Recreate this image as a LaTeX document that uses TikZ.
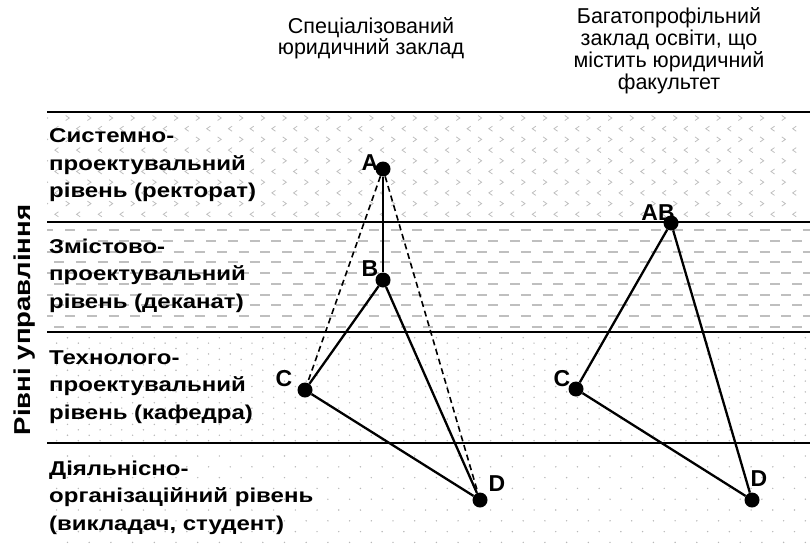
\documentclass[tikz,border=0pt]{standalone}
\usepackage{fontspec}
\setmainfont{Liberation Sans}
\newfontfamily\widefont[FakeStretch=1.2]{Liberation Sans}
\begin{document}
\begin{tikzpicture}[x=1pt,y=-1pt,
  pt/.style={circle,fill=black,inner sep=0pt,minimum size=15pt},
  ptlab/.style={font=\bfseries\fontsize{23}{23}\selectfont,inner sep=0pt},
  edge/.style={line width=2.3pt},
  hidden/.style={line width=1.6pt,dash pattern=on 6pt off 4pt},
  level/.style={font=\widefont\bfseries\fontsize{20}{27.5}\selectfont,align=left,anchor=base west,inner sep=0pt},
  head/.style={font=\fontsize{21.5}{21.7}\selectfont,align=center,anchor=base,inner sep=0pt},
  sep/.style={line width=1.5pt}]
\useasboundingbox (0,0) rectangle (810,551);
% band textures
\begin{scope}
\clip (47,112) rectangle (810,222);
\foreach \r in {0,2,...,8} \foreach \c in {0,...,36}
  \draw[black!25,line width=.8pt,shift={({2.4+\c*21.7},{118+\r*10.7})}] (-1.8,-2.5) -- (1.8,0) -- (-1.8,2.5);
\foreach \r in {1,3,...,9} \foreach \c in {0,...,36}
  \draw[black!25,line width=.8pt,shift={({13.25+\c*21.7},{118+\r*10.7})}] (1.8,-2.5) -- (-1.8,0) -- (1.8,2.5);
\end{scope}
\begin{scope}
\clip (47,222) rectangle (810,332);
\foreach \r in {0,2,...,8} \foreach \c in {0,...,37}
  \draw[black!25,line width=2pt] ({\c*21.7},{230.3+\r*10.7}) -- +(10,0);
\foreach \r in {1,3,...,9} \foreach \c in {0,...,37}
  \draw[black!25,line width=2pt] ({10.85+\c*21.7},{230.3+\r*10.7}) -- +(10,0);
\end{scope}
\begin{scope}
\clip (47,332) rectangle (810,443);
\foreach \r in {0,2,...,18} \foreach \c in {0,...,37}
  \fill[black!28] ({2.4+\c*21.7},{337.7+\r*5.42}) circle (.8);
\foreach \r in {1,3,...,19} \foreach \c in {0,...,37}
  \fill[black!28] ({13.25+\c*21.7},{337.7+\r*5.42}) circle (.8);
\end{scope}
\begin{scope}
\clip (47,443) rectangle (810,548);
\foreach \r in {0,2,...,8} \foreach \c in {0,...,37}
  \fill[black!28] ({2.4+\c*21.7},{456+\r*10.8}) circle (.8);
\foreach \r in {1,3,...,7} \foreach \c in {0,...,37}
  \fill[black!28] ({13.25+\c*21.7},{456+\r*10.8}) circle (.8);
\end{scope}
% level lines
\foreach \y in {112,222,332,443}
  \draw[sep] (47,\y) -- (810,\y);
% headings
\node[head] (hspec) at (371,55) {Спеціалізований\\юридичний заклад};
\node[head] (hmulti) at (669,89) {Багатопрофільний\\заклад освіти, що\\містить юридичний\\факультет};
\node[font=\widefont\bfseries\fontsize{23}{23}\selectfont,rotate=90,inner sep=0pt] (axis) at (25,320) {Рівні управління};
% level names
\node[level] (lev1) at (49,197.5) {Системно-\\проектувальний\\рівень (ректорат)};
\node[level] (lev2) at (49,308) {Змістово-\\проектувальний\\рівень (деканат)};
\node[level] (lev3) at (49,419) {Технолого-\\проектувальний\\рівень (кафедра)};
\node[level] (lev4) at (49,530) {Діяльнісно-\\організаційний рівень\\(викладач, студент)};
% specialised school
\node[pt] (A) at (383,169) {};
\node[pt] (B) at (383,280) {};
\node[pt] (C) at (305,390) {};
\node[pt] (D) at (480,500) {};
\draw[hidden] (A) -- (C);
\draw[hidden] (A) -- (D);
\draw[edge] (A) -- (B);
\draw[edge] (B) -- (C);
\draw[edge] (B) -- (D);
\draw[edge] (C) -- (D);
\node[ptlab] (lA) at ([shift={(-13,-6)}]A) {A};
\node[ptlab] (lB) at ([shift={(-13,-11)}]B) {B};
\node[ptlab] (lC) at ([shift={(-21,-11)}]C) {C};
\node[ptlab] (lD) at ([shift={(17,-16)}]D) {D};
% multi-profile school
\node[pt] (AB2) at (671,223) {};
\node[pt] (C2) at (576,389) {};
\node[pt] (D2) at (752,500) {};
\draw[edge] (AB2) -- (C2);
\draw[edge] (AB2) -- (D2);
\draw[edge] (C2) -- (D2);
\node[ptlab] (lAB2) at ([shift={(-13,-10)}]AB2) {AB};
\node[ptlab] (lC2) at ([shift={(-14,-10)}]C2) {C};
\node[ptlab] (lD2) at ([shift={(7,-21)}]D2) {D};
\end{tikzpicture}
\end{document}
